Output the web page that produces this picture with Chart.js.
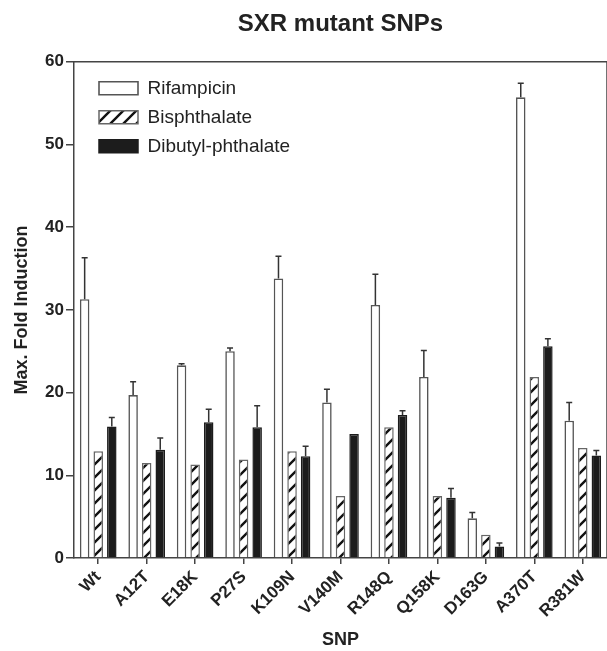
<!DOCTYPE html>
<html>
<head>
<meta charset="utf-8">
<title>SXR mutant SNPs</title>
<script src="https://cdn.jsdelivr.net/npm/chart.js@4.4.1/dist/chart.umd.min.js"></script>
<style>
  body { margin: 0; background: #fff; }
  #wrap { width: 607px; height: 651px; }
</style>
</head>
<body>
<div id="wrap"><canvas id="snpChart" width="607" height="651"></canvas></div>
<script>
var snps = ['Wt', 'A12T', 'E18K', 'P27S', 'K109N', 'V140M', 'R148Q', 'Q158K', 'D163G', 'A370T', 'R381W'];

var rifampicin    = [31.3, 19.7, 23.3, 25.0, 33.8, 18.8, 30.6, 21.9, 4.8, 55.7, 16.6];
var rifampicinErr = [5.0, 1.6, 0.2, 0.4, 2.7, 1.6, 3.7, 3.2, 0.7, 1.7, 2.2];

var bisphthalate    = [12.9, 11.5, 11.3, 11.9, 12.9, 7.5, 15.8, 7.5, 2.8, 21.9, 13.3];
var bisphthalateErr = [0, 0, 0, 0, 0, 0, 0, 0, 0, 0, 0];

var dibutyl    = [15.9, 13.1, 16.4, 15.8, 12.3, 15.0, 17.3, 7.3, 1.4, 25.6, 12.4];
var dibutylErr = [1.1, 1.4, 1.6, 2.6, 1.2, 0, 0.5, 1.1, 0.4, 0.9, 0.6];

var ctx = document.getElementById('snpChart').getContext('2d');

Chart.defaults.font.family = "'Liberation Sans', Arial, sans-serif";
Chart.defaults.color = '#222';

function hatchPattern() {
    var n = 13;
    var c = document.createElement('canvas');
    c.width = n;
    c.height = n;
    var p = c.getContext('2d');
    p.fillStyle = '#fff';
    p.fillRect(0, 0, n, n);
    p.strokeStyle = '#111';
    p.lineWidth = 2.4;
    p.beginPath();
    p.moveTo(-3, n + 3); p.lineTo(n + 3, -3);
    p.moveTo(-3, 3); p.lineTo(3, -3);
    p.moveTo(n - 3, n + 3); p.lineTo(n + 3, n - 3);
    p.stroke();
    return ctx.createPattern(c, 'repeat');
}

// upward-only error bars with a small cap
var errorBars = {
    id: 'errorBars',
    afterDatasetsDraw: function (chart) {
        var c = chart.ctx;
        var yScale = chart.scales.y;
        c.save();
        c.strokeStyle = '#333';
        c.lineWidth = 1.5;
        chart.data.datasets.forEach(function (ds, i) {
            chart.getDatasetMeta(i).data.forEach(function (bar, j) {
                var err = ds.errors[j];
                if (!err) return;
                var yTop = yScale.getPixelForValue(ds.data[j] + err);
                c.beginPath();
                c.moveTo(bar.x, bar.y);
                c.lineTo(bar.x, yTop);
                c.moveTo(bar.x - 3, yTop);
                c.lineTo(bar.x + 3, yTop);
                c.stroke();
            });
        });
        c.restore();
    }
};

// top and right edges of the plot box
var plotFrame = {
    id: 'plotFrame',
    beforeDatasetsDraw: function (chart) {
        var a = chart.chartArea;
        var c = chart.ctx;
        c.save();
        c.strokeStyle = '#444';
        c.lineWidth = 1.5;
        c.beginPath();
        c.moveTo(a.left, a.top);
        c.lineTo(a.right, a.top);
        c.lineTo(a.right, a.bottom);
        c.stroke();
        c.restore();
    }
};

var legendShift = {
    id: 'legendShift',
    afterLayout: function (chart) {
        chart.legend.left = chart.chartArea.left + 15;
        chart.legend.top = chart.chartArea.top + 7;
    }
};

var snpChart = new Chart(ctx, {
    type: 'bar',
    data: {
        labels: snps,
        datasets: [{
            label: 'Rifampicin',
            data: rifampicin,
            errors: rifampicinErr,
            backgroundColor: '#ffffff',
            borderColor: '#555',
            borderWidth: 1.6
        },
        {
            label: 'Bisphthalate',
            data: bisphthalate,
            errors: bisphthalateErr,
            backgroundColor: hatchPattern(),
            borderColor: '#666',
            borderWidth: 1.5
        },
        {
            label: 'Dibutyl-phthalate',
            data: dibutyl,
            errors: dibutylErr,
            backgroundColor: '#1c1c1c',
            borderColor: '#1c1c1c',
            borderWidth: 1.5
        }]
    },
    options: {
        responsive: false,
        animation: false,
        devicePixelRatio: 1,
        categoryPercentage: 0.84,
        barPercentage: 0.7,
        layout: { padding: 0 },
        plugins: {
            title: {
                display: true,
                text: 'SXR mutant SNPs',
                fullSize: false,
                color: '#222',
                font: { size: 24, weight: 'bold' },
                padding: { top: 10, bottom: 23 }
            },
            legend: {
                position: 'chartArea',
                align: 'start',
                labels: {
                    boxWidth: 39,
                    boxHeight: 13,
                    padding: 10,
                    color: '#222',
                    font: { size: 19 }
                }
            },
            tooltip: { enabled: false }
        },
        scales: {
            x: {
                grid: {
                    drawOnChartArea: false,
                    drawTicks: true,
                    tickLength: 6,
                    offset: false,
                    color: '#444',
                    lineWidth: 1.5
                },
                border: { display: true, color: '#444', width: 1.5 },
                ticks: {
                    autoSkip: false,
                    minRotation: 45,
                    maxRotation: 45,
                    padding: 3,
                    color: '#222',
                    font: { size: 17, weight: 'bold' }
                },
                title: {
                    display: true,
                    text: 'SNP',
                    color: '#222',
                    font: { size: 18, weight: 'bold' },
                    padding: 0
                },
                afterFit: function (s) { s.height = 93; }
            },
            y: {
                min: 0,
                max: 60,
                grid: {
                    drawOnChartArea: false,
                    drawTicks: true,
                    tickLength: 8,
                    color: '#444',
                    lineWidth: 1.5
                },
                border: { display: true, color: '#444', width: 1.5 },
                ticks: {
                    stepSize: 10,
                    padding: 2,
                    color: '#222',
                    font: { size: 17, weight: 'bold' }
                },
                title: {
                    display: true,
                    text: 'Max. Fold Induction',
                    color: '#222',
                    font: { size: 18, weight: 'bold' },
                    padding: { top: 11, bottom: 0 }
                },
                afterFit: function (s) { s.width = 74; }
            }
        }
    },
    plugins: [plotFrame, errorBars, legendShift]
});
</script>
</body>
</html>
